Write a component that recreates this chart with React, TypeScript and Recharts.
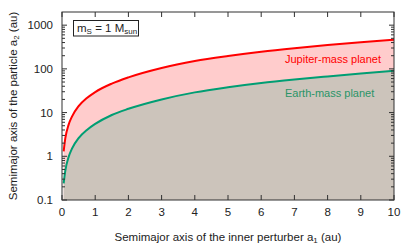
import React from "react";
import { ComposedChart, Area, XAxis, YAxis } from "recharts";

// semimajor axis of the inner perturber (au)
const A1 = [0.05, 0.1, 0.2, 0.3, 0.5, 0.75, 1, 1.5, 2, 3, 4, 5, 6, 7, 8, 9, 10];
// particle semimajor axis limit, Jupiter-mass perturber (au)
const JUPITER = [1.3, 2.6, 5.3, 8.1, 14, 21.5, 29.5, 46, 64, 105, 151, 197, 247, 298, 352, 408, 465];
// particle semimajor axis limit, Earth-mass perturber (au)
const EARTH = [0.24, 0.47, 0.97, 1.5, 2.6, 4.0, 5.5, 8.8, 12.2, 20, 29, 38, 47.5, 57, 67, 78, 90];

const X_TICKS = [0, 1, 2, 3, 4, 5, 6, 7, 8, 9, 10];
const Y_MAJOR = [0.1, 1, 10, 100, 1000];
const Y_LABELS = ["0.1", "1", "10", "100", "1000"];

const W = 415;
const H = 249;
const LEFT = 62;
const RIGHT = 394;
const TOP = 12;
const BOTTOM = 200;
const FONT = "'Liberation Sans', Arial, sans-serif";
const AXIS = "#303030";
const TEXT = "#222";

const Y_TICKS: number[] = [];
Y_MAJOR.forEach((m) => {
  for (let k = 1; k <= 9; k++) {
    if (m * k < 2000) Y_TICKS.push(m * k);
  }
});

const data = A1.map((a, i) => ({ a1: a, jupiter: JUPITER[i], earth: EARTH[i] }));

function YTick(props: any) {
  const { y, payload } = props;
  const idx = Y_MAJOR.findIndex((m) => Math.abs(m - payload.value) < 1e-9);
  const len = idx >= 0 ? 5 : 3;
  return (
    <g>
      <line x1={LEFT} x2={LEFT + len} y1={y} y2={y} stroke={AXIS} />
      <line x1={RIGHT} x2={RIGHT - len} y1={y} y2={y} stroke={AXIS} />
      {idx >= 0 && (
        <text x={LEFT - 9} y={y} dy={4} textAnchor="end" fontSize={11.5} fontFamily={FONT} fill={TEXT}>
          {Y_LABELS[idx]}
        </text>
      )}
    </g>
  );
}

function XTick(props: any) {
  const { x, payload } = props;
  return (
    <g>
      <line x1={x} x2={x} y1={BOTTOM} y2={BOTTOM - 5} stroke={AXIS} />
      <line x1={x} x2={x} y1={TOP} y2={TOP + 5} stroke={AXIS} />
      <text x={x} y={BOTTOM + 16} textAnchor="middle" fontSize={11.5} fontFamily={FONT} fill={TEXT}>
        {payload.value}
      </text>
    </g>
  );
}

export default function App() {
  return (
    <div style={{ position: "relative", width: W, height: H }}>
      <style>{`body{margin:0}`}</style>
      <ComposedChart
        width={W}
        height={H}
        data={data}
        margin={{ top: TOP, right: W - RIGHT, bottom: 0, left: 0 }}
      >
        <Area
          type="monotone"
          dataKey="jupiter"
          stroke="#ff0000"
          strokeWidth={2}
          fill="#ffcccc"
          fillOpacity={1}
          baseValue={0.1}
          dot={false}
          activeDot={false}
          isAnimationActive={false}
        />
        <Area
          type="monotone"
          dataKey="earth"
          stroke="#009e73"
          strokeWidth={2}
          fill="#ccc4bb"
          fillOpacity={1}
          baseValue={0.1}
          dot={false}
          activeDot={false}
          isAnimationActive={false}
        />
        <XAxis
          type="number"
          dataKey="a1"
          domain={[0, 10]}
          ticks={X_TICKS}
          interval={0}
          tick={<XTick />}
          tickLine={false}
          axisLine={false}
          height={H - BOTTOM}
        />
        <YAxis
          type="number"
          scale="log"
          domain={[0.1, 2000]}
          allowDataOverflow
          ticks={Y_TICKS}
          interval={0}
          tick={<YTick />}
          tickLine={false}
          axisLine={false}
          width={LEFT}
        />
      </ComposedChart>
      <svg
        width={W}
        height={H}
        style={{ position: "absolute", left: 0, top: 0, pointerEvents: "none" }}
        fontFamily={FONT}
      >
        <rect x={LEFT} y={TOP} width={RIGHT - LEFT} height={BOTTOM - TOP} fill="none" stroke={AXIS} />
        <rect x={73.5} y={20.5} width={65} height={15.5} fill="#fff" stroke="#222" />
        <text x={77} y={32} fontSize={11.5} fill={TEXT}>
          m<tspan fontSize={8} dy={2}>S</tspan>
          <tspan dy={-2}> = 1 M</tspan>
          <tspan fontSize={8} dy={2}>sun</tspan>
        </text>
        <text x={285} y={63} fontSize={11} fill="#ff0000">
          Jupiter-mass planet
        </text>
        <text x={285} y={97} fontSize={11} fill="#2a9468">
          Earth-mass planet
        </text>
        <text x={228} y={241} textAnchor="middle" fontSize={11.5} fill={TEXT}>
          Semimajor axis of the inner perturber a<tspan fontSize={8} dy={2}>1</tspan>
          <tspan dy={-2}> (au)</tspan>
        </text>
        <text
          transform="rotate(-90)"
          x={-106}
          y={17}
          textAnchor="middle"
          fontSize={11.5}
          fill={TEXT}
        >
          Semimajor axis of the particle a<tspan fontSize={8} dy={2}>2</tspan>
          <tspan dy={-2}> (au)</tspan>
        </text>
      </svg>
    </div>
  );
}
